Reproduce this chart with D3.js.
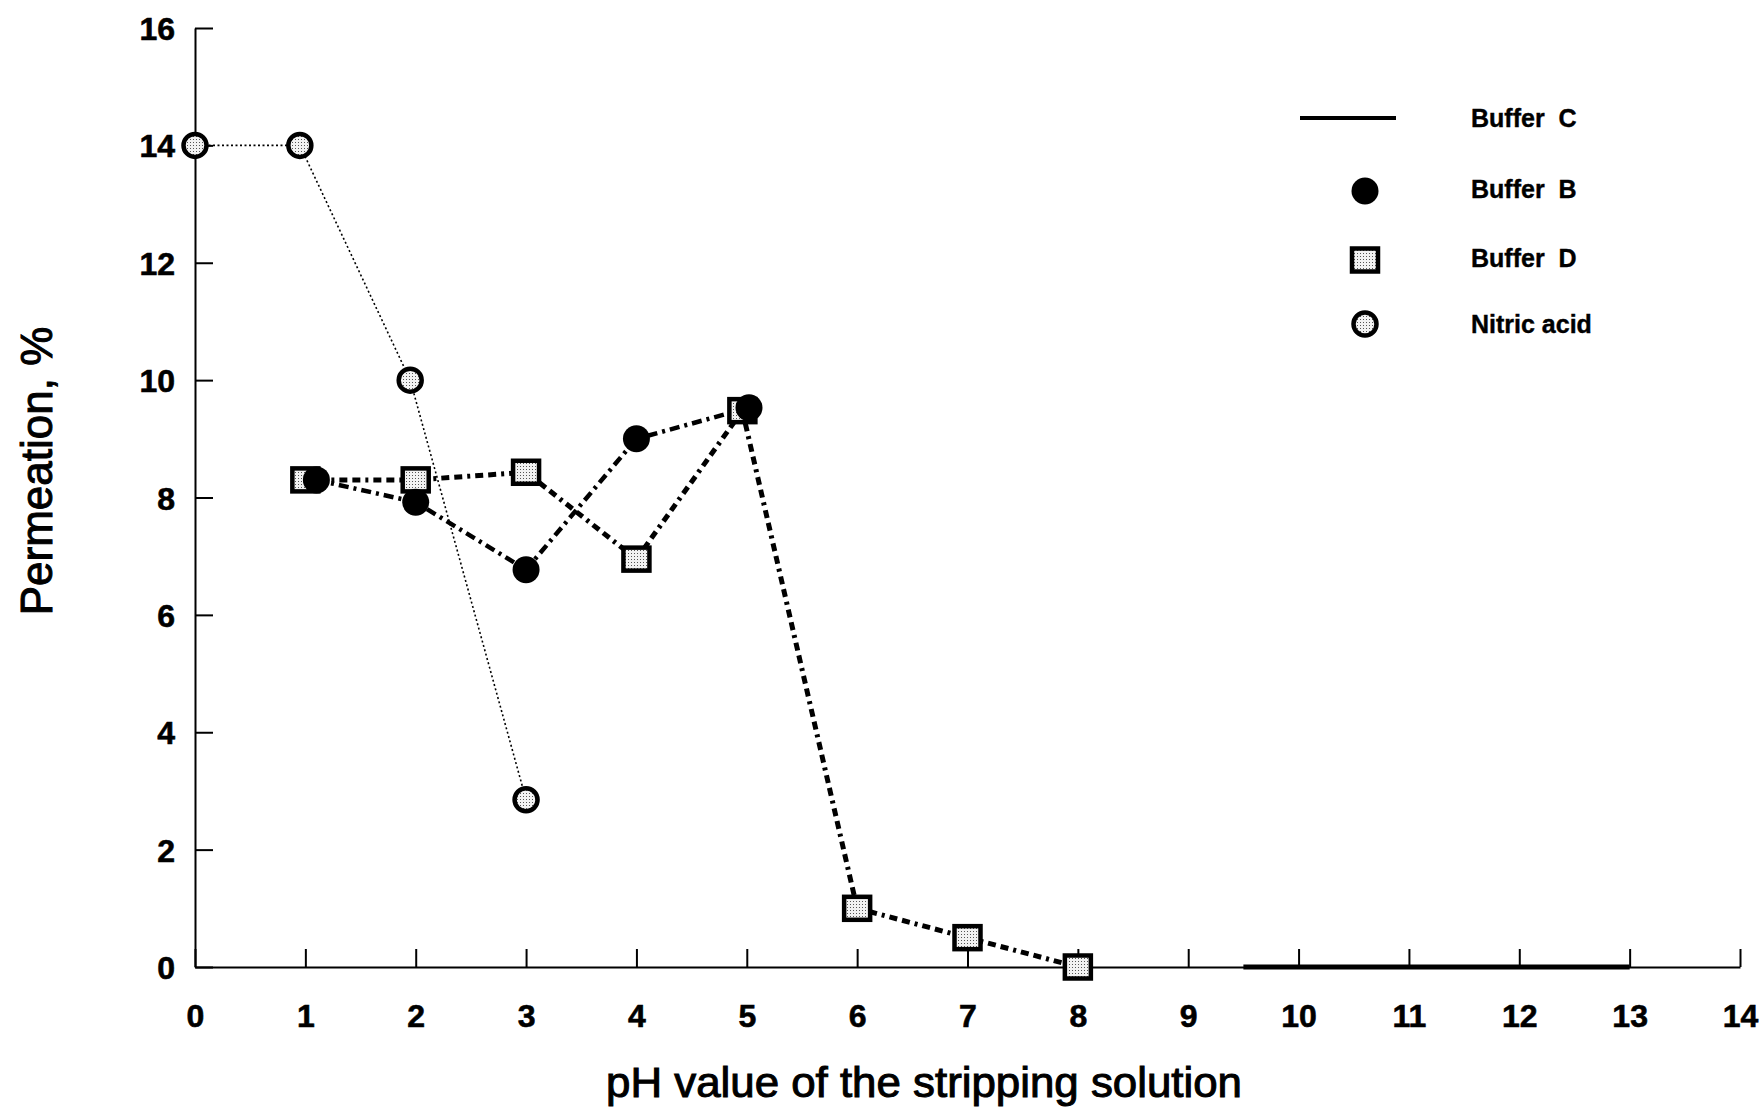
<!DOCTYPE html>
<html>
<head>
<meta charset="utf-8">
<script src="https://cdn.jsdelivr.net/npm/d3@7"></script>
<style>
  html, body { margin: 0; padding: 0; background: #fff; }
  svg { display: block; font-family: "Liberation Sans", Arial, sans-serif; }
  text { white-space: pre; }
</style>
</head>
<body>
<svg id="chart" width="1763" height="1111"></svg>
<script>
// Permeation (%) against pH of the stripping solution
const xTicks = [0, 1, 2, 3, 4, 5, 6, 7, 8, 9, 10, 11, 12, 13, 14];
const yTicks = [0, 2, 4, 6, 8, 10, 12, 14, 16];

const nitricPH   = [0, 0.95, 1.95, 3.0];
const nitricPerm = [14.0, 14.0, 10.0, 2.85];

const bufferBPH   = [1.1, 2.0, 3.0, 4.0, 5.02];
const bufferBPerm = [8.3, 7.92, 6.77, 9.0, 9.53];

const bufferDPH   = [1.0, 2.0, 3.0, 4.0, 4.96, 6.0, 7.0, 8.0];
const bufferDPerm = [8.3, 8.3, 8.43, 6.95, 9.48, 1.0, 0.5, 0.0];

const bufferCPH   = [9.5, 13.0];
const bufferCPerm = [0.0, 0.0];

const legendLabels = ["Buffer  C", "Buffer  B", "Buffer  D", "Nitric acid"];
const xTitle = "pH value of the stripping solution";
const yTitle = "Permeation, %";

const svg = d3.select("#chart");

// stipple fill used inside the open markers
const defs = svg.append("defs");
const pat = defs.append("pattern")
  .attr("id", "stipple").attr("patternUnits", "userSpaceOnUse")
  .attr("width", 3).attr("height", 3);
pat.append("rect").attr("width", 3).attr("height", 3).attr("fill", "#f2f2f2");
pat.append("rect").attr("x", 1).attr("y", 1).attr("width", 1).attr("height", 1).attr("fill", "#555");

const x = d3.scaleLinear().domain([0, 14]).range([195, 1740]);
const y = d3.scaleLinear().domain([0, 16]).range([967, 28]);

// axes: ticks point inward
const xAxis = d3.axisBottom(x).tickValues(xTicks).tickSizeInner(-18).tickSizeOuter(0).tickFormat(d3.format("d"));
const yAxis = d3.axisLeft(y).tickValues(yTicks).tickSizeInner(-18).tickSizeOuter(0).tickFormat(d3.format("d"));

const gx = svg.append("g").attr("transform", `translate(0,${y(0)})`).call(xAxis);
const gy = svg.append("g").attr("transform", `translate(${x(0)},0)`).call(yAxis);

[gx, gy].forEach(g => {
  g.select(".domain").attr("stroke", "#000").attr("stroke-width", 2);
  g.selectAll(".tick line").attr("stroke", "#000").attr("stroke-width", 2);
  g.selectAll(".tick text")
    .attr("fill", "#000")
    .attr("stroke", "#000").attr("stroke-width", 0.6)
    .attr("font-family", "Liberation Sans, Arial, sans-serif")
    .attr("font-size", 32)
    .attr("font-weight", "bold");
});
gx.selectAll(".tick text").attr("dy", null).attr("y", 60);
gy.selectAll(".tick text").attr("x", -20).attr("dy", "0.36em");

// axis titles
svg.append("text")
  .attr("x", 606).attr("y", 1097)
  .attr("font-size", 42)
  .attr("textLength", 636).attr("lengthAdjust", "spacingAndGlyphs")
  .attr("fill", "#000").attr("stroke", "#000").attr("stroke-width", 1)
  .text(xTitle);

svg.append("text")
  .attr("transform", "translate(52,471) rotate(-90)")
  .attr("text-anchor", "middle")
  .attr("font-size", 44)
  .attr("fill", "#000").attr("stroke", "#000").attr("stroke-width", 1)
  .text(yTitle);

const line = d3.line().x(d => x(d[0])).y(d => y(d[1]));
const zip = (a, b) => a.map((v, i) => [v, b[i]]);

const nitric = zip(nitricPH, nitricPerm);
const bufB = zip(bufferBPH, bufferBPerm);
const bufD = zip(bufferDPH, bufferDPerm);
const bufC = zip(bufferCPH, bufferCPerm);

// Buffer C: solid heavy line along zero
svg.append("path").datum(bufC).attr("d", line)
  .attr("fill", "none").attr("stroke", "#000").attr("stroke-width", 5);

// Buffer D line
svg.append("path").datum(bufD).attr("d", line)
  .attr("fill", "none").attr("stroke", "#000").attr("stroke-width", 5)
  .attr("stroke-dasharray", "8,5,8,5,3,5");

// Buffer B line
svg.append("path").datum(bufB).attr("d", line)
  .attr("fill", "none").attr("stroke", "#000").attr("stroke-width", 4.5)
  .attr("stroke-dasharray", "10,5,3,5");

// Nitric acid line
svg.append("path").datum(nitric).attr("d", line)
  .attr("fill", "none").attr("stroke", "#000").attr("stroke-width", 1.6)
  .attr("stroke-dasharray", "2,2.5");

const sqW = 26, sqH = 23;
svg.append("g").selectAll("rect").data(bufD).join("rect")
  .attr("x", d => x(d[0]) - sqW / 2).attr("y", d => y(d[1]) - sqH / 2)
  .attr("width", sqW).attr("height", sqH)
  .attr("fill", "url(#stipple)").attr("stroke", "#000").attr("stroke-width", 4.5);

svg.append("g").selectAll("circle").data(bufB).join("circle")
  .attr("cx", d => x(d[0])).attr("cy", d => y(d[1])).attr("r", 13.5)
  .attr("fill", "#000");

svg.append("g").selectAll("circle").data(nitric).join("circle")
  .attr("cx", d => x(d[0])).attr("cy", d => y(d[1])).attr("r", 11.5)
  .attr("fill", "url(#stipple)").attr("stroke", "#000").attr("stroke-width", 4.5);

// legend
const lg = svg.append("g");
const legendY = [118, 189, 258, 324];
lg.append("line").attr("x1", 1300).attr("x2", 1396).attr("y1", legendY[0]).attr("y2", legendY[0])
  .attr("stroke", "#000").attr("stroke-width", 4);
lg.append("circle").attr("cx", 1365).attr("cy", legendY[1] + 2).attr("r", 13.5).attr("fill", "#000");
lg.append("rect").attr("x", 1365 - sqW / 2).attr("y", legendY[2] + 2 - sqH / 2)
  .attr("width", sqW).attr("height", sqH)
  .attr("fill", "url(#stipple)").attr("stroke", "#000").attr("stroke-width", 4.5);
lg.append("circle").attr("cx", 1365).attr("cy", legendY[3]).attr("r", 11.5)
  .attr("fill", "url(#stipple)").attr("stroke", "#000").attr("stroke-width", 4.5);

lg.selectAll("text").data(legendLabels).join("text")
  .attr("x", 1471).attr("y", (d, i) => legendY[i]).attr("dy", "0.36em")
  .attr("font-size", 25).attr("font-weight", "bold").attr("fill", "#000")
  .attr("stroke", "#000").attr("stroke-width", 0.4)
  .text(d => d);
</script>
</body>
</html>
